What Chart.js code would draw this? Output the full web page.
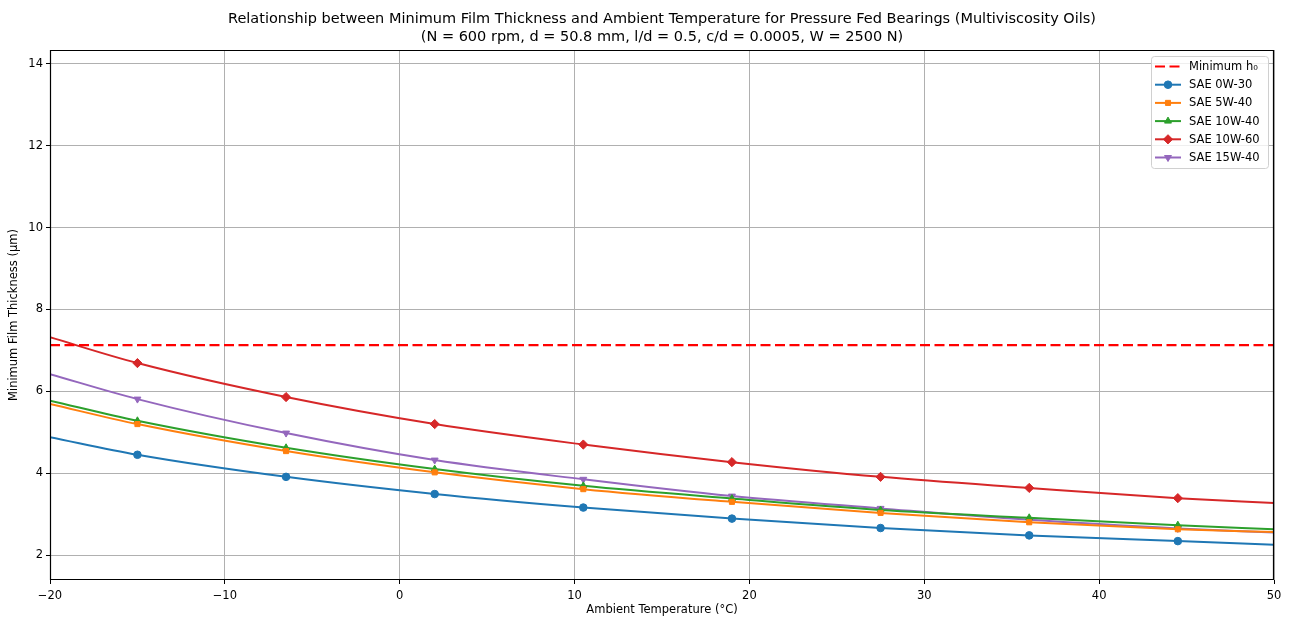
<!DOCTYPE html>
<html>
<head>
<meta charset="utf-8">
<script src="https://cdn.jsdelivr.net/npm/chart.js@4.4.1/dist/chart.umd.min.js"></script>
<style>
  html, body { margin: 0; padding: 0; background: #fff; }
  #wrap { width: 1290px; height: 617px; }
</style>
</head>
<body>
<div id="wrap"><canvas id="filmChart" width="1290" height="617"></canvas></div>
<script>
const temps = [-20, -15, -6.5, 2, 10.5, 19, 27.5, 36, 44.5, 50];
const minH0 = 7.13;

const sae0w30 = [4.88, 4.45, 3.91, 3.49, 3.16, 2.89, 2.66, 2.48, 2.34, 2.25];
const sae5w40 = [5.69, 5.20, 4.54, 4.02, 3.61, 3.30, 3.03, 2.80, 2.63, 2.56];
const sae10w40 = [5.77, 5.28, 4.62, 4.10, 3.69, 3.38, 3.10, 2.91, 2.73, 2.63];
const sae10w60 = [7.32, 6.69, 5.86, 5.20, 4.70, 4.27, 3.91, 3.64, 3.39, 3.27];
const sae15w40 = [6.42, 5.81, 4.98, 4.32, 3.85, 3.44, 3.14, 2.86, 2.65, 2.55];

const xTicks = [-20, -10, 0, 10, 20, 30, 40, 50];
const yTicks = [2, 4, 6, 8, 10, 12, 14];

const FONT = "'DejaVu Sans', sans-serif";

function pts(ys) {
  return temps.map((t, i) => ({ x: t, y: ys[i] }));
}
// markers only on the inner points, like markevery
function markers(r) {
  return temps.map((t, i) => (i === 0 || i === temps.length - 1) ? 0 : r);
}

function oil(label, ys, color, style, rot, r) {
  return {
    label: label,
    data: pts(ys),
    borderColor: color,
    backgroundColor: color,
    borderWidth: 2,
    pointStyle: style,
    pointRotation: rot || 0,
    pointRadius: markers(r || 4),
    pointBorderWidth: 1,
    cubicInterpolationMode: 'monotone',
    fill: false
  };
}

const datasets = [
  {
    label: 'Minimum h\u2080',
    data: [{ x: temps[0], y: minH0 }, { x: temps[temps.length - 1], y: minH0 }],
    borderColor: '#ff0000',
    backgroundColor: '#ff0000',
    borderWidth: 2.2,
    borderDash: [10, 4.5],
    pointRadius: 0,
    fill: false
  },
  oil('SAE 0W-30', sae0w30, '#1f77b4', 'circle', 0, 3.8),
  oil('SAE 5W-40', sae5w40, '#ff7f0e', 'rect', 0, 3.6),
  oil('SAE 10W-40', sae10w40, '#2ca02c', 'triangle', 0, 4),
  oil('SAE 10W-60', sae10w60, '#d62728', 'rectRot', 0, 4.6),
  oil('SAE 15W-40', sae15w40, '#9467bd', 'triangle', 180, 4)
];

const titleAndFrame = {
  id: 'titleAndFrame',
  afterDraw(chart) {
    const ctx = chart.ctx;
    const a = chart.chartArea;
    ctx.save();
    // frame on all four sides
    ctx.strokeStyle = '#000';
    ctx.lineWidth = 1.2;
    const l = Math.round(a.left), t = Math.round(a.top);
    const r = Math.round(a.right), b = Math.round(a.bottom);
    ctx.beginPath();
    ctx.moveTo(l + 0.5, t + 0.5);
    ctx.lineTo(r - 0.5, t + 0.5);
    ctx.lineTo(r - 0.5, b - 0.5);
    ctx.lineTo(l + 0.5, b - 0.5);
    ctx.closePath();
    ctx.stroke();
    // title
    ctx.fillStyle = '#000';
    ctx.font = '14.5px ' + FONT;
    ctx.textAlign = 'center';
    ctx.textBaseline = 'middle';
    const cx = (a.left + a.right) / 2;
    ctx.fillText('Relationship between Minimum Film Thickness and Ambient Temperature for Pressure Fed Bearings (Multiviscosity Oils)', cx, 19);
    ctx.fillText('(N = 600 rpm, d = 50.8 mm, l/d = 0.5, c/d = 0.0005, W = 2500 N)', cx, 37);

    // legend box, top right
    const bx = 1151, by = 56, bw = 117, bh = 112, row = 18.2;
    ctx.fillStyle = 'rgba(255,255,255,0.8)';
    ctx.strokeStyle = '#d0d0d0';
    ctx.lineWidth = 1;
    ctx.beginPath();
    ctx.roundRect(bx + 0.5, by + 0.5, bw, bh, 3);
    ctx.fill();
    ctx.stroke();
    ctx.font = '11.5px ' + FONT;
    ctx.textAlign = 'left';
    chart.data.datasets.forEach((ds, i) => {
      const y = by + 10.5 + i * row;
      ctx.save();
      ctx.strokeStyle = ds.borderColor;
      ctx.lineWidth = ds.borderWidth;
      ctx.setLineDash(ds.borderDash || []);
      ctx.beginPath();
      ctx.moveTo(1155, y);
      ctx.lineTo(1181, y);
      ctx.stroke();
      ctx.restore();
      if (ds.pointStyle) {
        ctx.fillStyle = ds.backgroundColor;
        ctx.strokeStyle = ds.borderColor;
        Chart.helpers.drawPoint(ctx, {
          pointStyle: ds.pointStyle,
          rotation: ds.pointRotation,
          radius: ds.pointRadius[1],
          borderWidth: 1
        }, 1168, y);
      }
      ctx.fillStyle = '#000';
      ctx.fillText(ds.label, 1189, y + 0.5);
    });
    ctx.restore();
  }
};

new Chart(document.getElementById('filmChart'), {
  type: 'line',
  data: { datasets: datasets },
  plugins: [titleAndFrame],
  options: {
    responsive: false,
    animation: false,
    layout: { padding: { top: 50, right: 16, left: 0, bottom: 0 } },
    plugins: {
      legend: { display: false },
      title: { display: false },
      tooltip: { enabled: false }
    },
    scales: {
      x: {
        type: 'linear',
        min: -20,
        max: 50,
        afterFit(scale) { scale.height = 37; },
        afterBuildTicks(scale) { scale.ticks = xTicks.map(v => ({ value: v })); },
        grid: { color: '#b0b0b0', lineWidth: 1, tickLength: 4, tickColor: '#000' },
        border: { display: false },
        ticks: {
          color: '#000',
          font: { family: FONT, size: 11.5 },
          padding: 5,
          maxRotation: 0,
          callback: v => String(v).replace('-', '\u2212')
        },
        title: {
          display: true,
          text: 'Ambient Temperature (\u00b0C)',
          color: '#000',
          font: { family: FONT, size: 11.5 },
          padding: { top: 0, bottom: 0 }
        }
      },
      y: {
        type: 'linear',
        min: 1.39,
        max: 14.34,
        afterFit(scale) { scale.width = 50; },
        afterBuildTicks(scale) { scale.ticks = yTicks.map(v => ({ value: v })); },
        grid: { color: '#b0b0b0', lineWidth: 1, tickLength: 4, tickColor: '#000' },
        border: { display: false },
        ticks: {
          color: '#000',
          font: { family: FONT, size: 11.5 },
          padding: 3
        },
        title: {
          display: true,
          text: 'Minimum Film Thickness (\u03bcm)',
          color: '#000',
          font: { family: FONT, size: 11.5 },
          padding: { top: 7, bottom: 0 }
        }
      }
    }
  }
});
</script>
</body>
</html>
